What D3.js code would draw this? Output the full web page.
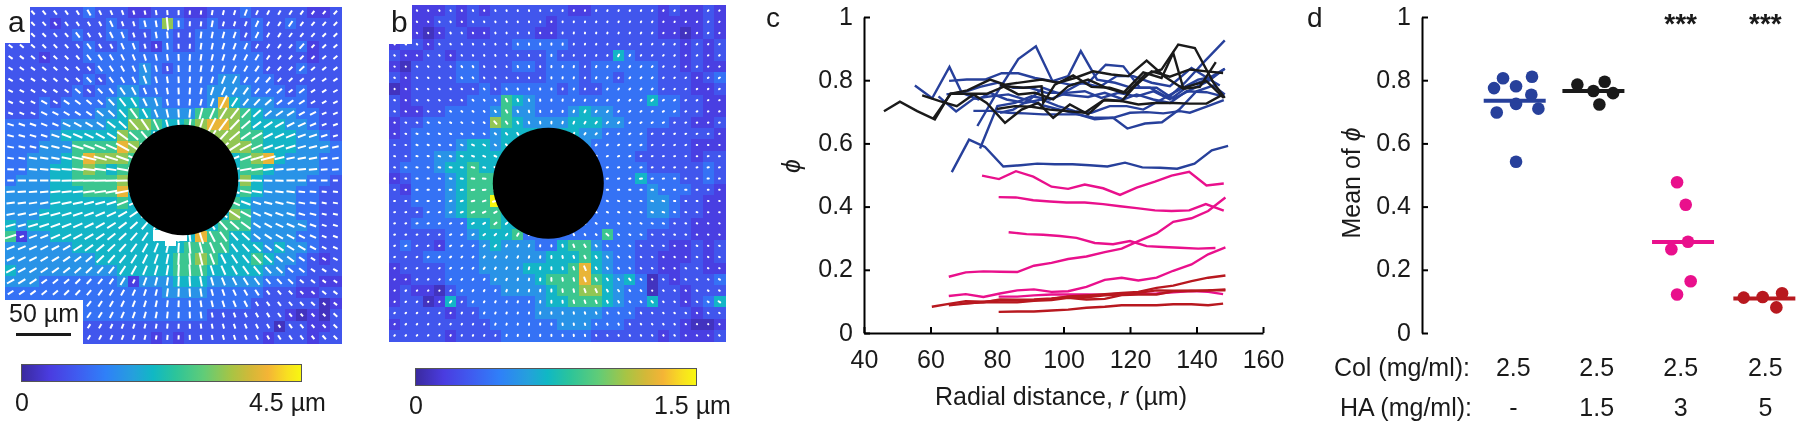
<!DOCTYPE html>
<html><head><meta charset="utf-8">
<script src="https://cdn.jsdelivr.net/npm/d3@7"></script>
<style>
html,body{margin:0;padding:0;background:#fff;}
svg{display:block;filter:blur(0.35px);}
text{font-family:"Liberation Sans",Arial,sans-serif;fill:#1a1a1a;}
</style></head><body><svg id="c" width="1800" height="426"></svg>
<script>
// Displacement magnitude on the bead-centred grid, as levels 0-9 of the colour range
const heatA = [
"22222 22322 21122 21122 23222 22112",
"22221 22223 22337 32232 22322 32222",
"22222 23223 32233 22333 32322 22222",
"22222 22322 33213 22333 33222 23122",
"22212 22333 33333 33333 33322 22122",
"22222 22233 33432 33333 33322 23222",
"22222 22323 33433 33334 43332 22222",
"22222 23233 44333 33344 44333 23222",
"22232 33334 55443 33348 54443 33222",
"22233 33344 56544 44667 76544 43322",
"33333 44445 57765 56788 76555 44322",
"33334 55555 76654 45677 76655 54432",
"33344 46666 87654 55567 77655 54443",
"33444 56877 76555 55555 56785 44433",
"33445 56765 66555 55555 56654 44433",
"34445 56666 75555 55555 57544 44332",
"44445 55666 85555 55555 56544 43322",
"44445 55555 65555 55555 65444 43322",
"44455 55555 55555 55555 76444 43322",
"54555 55555 55555 55556 66444 44322",
"61445 55555 55555 55866 55444 43322",
"44444 45555 55555 56666 55545 44322",
"44444 44455 55555 66765 55654 43212",
"54444 44444 55555 66655 55544 33222",
"44433 33333 41444 55544 44433 32211",
"33333 33333 33334 44433 33322 21122",
"33333 33333 33333 33333 33222 22201",
"33333 33333 33333 33322 22222 10102",
"33333 32222 22222 22222 22220 22112",
"32222 22222 22212 12222 22212 22122"];
const heatB = [
"11111 21212 22222 21122 22221 21121",
"22112 21222 22221 22222 22221 11121",
"21101 22112 22211 22222 22221 10121",
"12212 22222 23333 32222 22222 21212",
"21122 12222 22223 22222 53222 21212",
"10222 23322 23323 33233 33332 21211",
"21222 23322 22223 33233 23332 22123",
"01222 22232 33333 23223 33332 22112",
"21222 22333 65433 33333 33353 32211",
"21122 33334 64433 34544 33333 32211",
"12233 33337 65444 45554 43333 22112",
"12333 33334 55553 55443 33322 22221",
"22333 34554 55554 44433 33322 22111",
"22334 45555 54433 33333 33222 22122",
"23334 55655 43333 33333 33322 22232",
"12333 45666 53333 33333 33533 32232",
"21333 45666 63333 33333 33343 33221",
"22333 45669 93333 33333 33344 32211",
"22233 45666 53333 33333 33344 32211",
"22333 33556 55333 33333 33333 22111",
"22222 33455 56333 33336 33322 22111",
"23221 33345 44433 56643 33222 11212",
"22233 33344 44445 55654 33221 11212",
"12222 33344 44555 56854 33221 12211",
"11222 33334 44456 66865 45302 12223",
"12110 23333 44445 66775 43302 21222",
"12201 52333 33345 56665 43352 21235",
"22222 12233 33344 44443 33222 22122",
"12222 22223 33333 44433 32222 21001",
"22222 12222 33333 33322 22221 21112"];
const levelFractions = [.05,.11,.18,.26,.36,.46,.58,.72,.86,1];
const colorStops = [[0,"#3a2a9e"],[.1,"#4a3ce0"],[.2,"#3f5cf0"],[.3,"#2f80f8"],[.4,"#25a0dc"],[.47,"#10b8c4"],[.55,"#2cc49a"],[.65,"#60cc78"],[.75,"#a8c444"],[.82,"#d4b838"],[.88,"#f4b436"],[.95,"#f8e020"],[1,"#f8f810"]];

// Panel c: [radial distance, phi]
const blueLines = [
[[66.4,.509],[71.6,.612],[76.4,.589],[81.9,.527],[87.1,.531],[92.1,.536],[97.4,.534],[102.7,.534],[107.9,.531],[113.2,.527],[118.5,.539],[123.7,.524],[129,.523],[134.2,.52],[139.4,.536],[144.6,.578],[149.5,.592]],
[[74.1,.655],[79.3,.749],[86.4,.867],[91.7,.907],[96.7,.797],[101.4,.813],[105.2,.892],[110.1,.802],[115.5,.792],[120.5,.776],[126,.776],[131.5,.744],[136.5,.792],[142,.855],[148.5,.926]],
[[74.9,.584],[80.1,.718],[85.4,.728],[90.4,.749],[95.9,.739],[100.9,.76],[106.4,.765],[111.4,.744],[116.5,.76],[122,.749],[127,.765],[132,.739],[137.5,.781],[143,.802],[148.5,.836]],
[[55.3,.783],[60.5,.743],[65.7,.842],[69.4,.76],[74.4,.739],[77.9,.76],[82.9,.739],[88.4,.728],[93.4,.739],[98.4,.718],[103.4,.702],[108.4,.697],[113.9,.718],[119,.718],[124,.707],[129.5,.739],[135,.771],[140.5,.802],[145.5,.813]],
[[65.6,.798],[70.9,.802],[76.4,.802],[81.4,.822],[86.4,.822],[91.4,.807],[96.9,.797],[101.9,.786],[107.4,.792],[112.7,.849],[118,.844],[123,.776],[128,.776],[133,.741],[138.5,.771],[143.5,.797],[148.5,.836]],
[[62.4,.749],[67.7,.701],[72.9,.741],[78.1,.749],[83.4,.755],[88.4,.739],[93.9,.72],[98.9,.707],[104.4,.692],[109.4,.676],[114.9,.681],[119.2,.647],[124.5,.663],[129.6,.667],[134.8,.707],[140,.765],[145,.783],[148.5,.755]],
[[72.9,.703],[78.1,.703],[83.4,.697],[88.4,.695],[93.9,.692],[98.9,.692],[104.4,.692],[109.4,.681],[114.9,.681],[120,.697],[125,.699],[130,.695],[135,.702],[138,.697],[143,.716],[148.2,.737]],
[[80.9,.697],[84.9,.707],[89.9,.739],[93.9,.776],[99.4,.755],[107.4,.747],[112.4,.76],[118,.739],[122,.755],[127,.739],[132,.728],[137,.765],[143,.762],[148.5,.747]],
[[64.8,.755],[69.9,.762],[74.9,.779],[80.1,.792],[84.9,.776],[89.9,.776],[94.9,.76],[99.9,.76],[105.4,.792],[110.9,.779],[116,.813],[121,.813],[126.5,.792],[132,.781],[138.5,.839],[144,.802],[147,.783]]];
const blackLines = [
[[46,.702],[50.8,.732],[56,.702],[61.3,.676],[65.9,.757],[71.1,.768],[77.9,.802],[82.4,.786],[87.9,.794],[93.4,.802],[98.4,.792],[103.4,.807],[108.9,.828],[114.4,.818],[119.5,.813],[125,.862],[130.5,.811],[136,.773],[141,.779],[145.8,.857]],
[[57.5,.752],[62.8,.734],[67.9,.718],[72.9,.755],[76.9,.728],[82.4,.665],[87.4,.707],[92.4,.728],[96.9,.681],[101.9,.723],[107.4,.692],[112.4,.739],[117.5,.734],[121.5,.781],[126.5,.828],[132,.811],[138,.834],[143,.828],[148,.823]],
[[60.8,.678],[66.1,.757],[71.9,.757],[76.9,.757],[82.4,.781],[87.9,.776],[93.4,.781],[93.9,.728],[97.4,.786],[102.9,.815],[108.4,.779],[113.9,.776],[119,.76],[124.5,.818],[129.5,.834],[134.5,.913],[139.5,.902],[145,.794],[148.5,.744]],
[[79.9,.709],[85.4,.718],[90.4,.716],[95.9,.707],[100.9,.702],[106.4,.697],[111.9,.736],[117.5,.734],[122.5,.723],[127.5,.728],[133,.728],[138,.726],[143,.726],[148,.755]],
[[80.9,.786],[86.4,.755],[91.4,.76],[96.9,.739],[101.4,.781],[107.4,.802],[112.9,.776],[118,.76],[124,.825],[129.5,.807],[133,.886],[136,.776],[143,.797],[148.2,.744]]];
const pinkLines = [
[[75.5,.498],[80.6,.487],[85.7,.512],[90.9,.495],[96.4,.463],[101.4,.456],[106.4,.47],[111.9,.458],[117,.437],[122,.46],[127.5,.479],[132.5,.498],[137.8,.51],[143,.467],[148.2,.473]],
[[80.5,.43],[85.7,.429],[90.9,.42],[95.9,.416],[100.9,.413],[106.4,.413],[111.9,.408],[117,.401],[122,.395],[127.5,.388],[132.5,.386],[137.8,.388],[142.8,.408],[148.2,.387]],
[[83.5,.319],[88.9,.313],[93.9,.311],[98.9,.307],[103.9,.301],[109.4,.285],[114.9,.281],[120,.291],[125,.275],[130,.272],[135,.27],[140.5,.267],[145.7,.269]],
[[65.5,.178],[70.6,.192],[75.9,.195],[80.9,.194],[86.1,.193],[91.1,.213],[96.4,.222],[101.4,.234],[106.9,.242],[112.4,.256],[117.5,.267],[122.5,.291],[128,.315],[133,.352],[138.5,.363],[143.5,.386],[148.7,.429]],
[[65.5,.117],[70.6,.123],[75.9,.114],[80.9,.125],[86.1,.135],[91.1,.138],[96.4,.13],[101.4,.132],[106.9,.146],[112.4,.168],[117.5,.175],[122.5,.166],[128,.175],[133,.197],[138.5,.217],[143.5,.249],[148.7,.271]],
[[80.5,.115],[86.1,.115],[91.1,.119],[96.4,.122],[101.4,.122],[106.9,.122],[112.4,.121],[117.5,.125],[122.5,.124],[128,.125],[133,.129],[138.5,.133],[143.5,.13],[148,.123]]];
const redLines = [
[[60.4,.083],[65.5,.092],[70.6,.101],[75.9,.099],[80.9,.103],[86.1,.103],[91.1,.104],[96.4,.108],[101.4,.116],[106.9,.119],[112.4,.123],[117.5,.127],[122.5,.13],[128,.143],[133,.15],[138.5,.164],[143.5,.175],[148.7,.182]],
[[65.5,.088],[70.6,.093],[75.9,.098],[80.9,.097],[86.1,.097],[91.1,.102],[96.4,.104],[101.4,.111],[106.9,.106],[112.4,.108],[117.5,.12],[122.5,.122],[128,.122],[133,.132],[138.5,.133],[143.5,.135],[148.7,.135]],
[[68.9,.093],[75.9,.097],[80.9,.106],[86.1,.105],[91.1,.106],[96.4,.109],[101.4,.114],[106.9,.113],[112.4,.119],[117.5,.122],[122.5,.127],[128,.135],[133,.134],[138.5,.134],[143.5,.135],[148.7,.138]],
[[80.5,.067],[86.1,.068],[91.1,.068],[96.4,.071],[101.4,.074],[106.9,.08],[112.4,.083],[117.5,.088],[122.5,.088],[128,.088],[133,.091],[138.5,.091],[143.5,.088],[148,.093]]];

// Panel d: [group position, mean phi]
const blueDots  = [[-.139,.806],[.206,.811],[-.246,.775],[.016,.781],[.198,.754],[.016,.725],[.282,.71],[-.214,.698],[.016,.542]];
const blackDots = [[.746,.786],[1.071,.795],[.937,.766],[1.171,.759],[1.008,.723]];
const pinkDots  = [[1.933,.477],[2.036,.406],[2.063,.289],[1.865,.265],[2.095,.164],[1.933,.122]];
const redDots   = [[2.726,.112],[2.952,.114],[3.183,.126],[3.115,.081]];
const groupMeans = [[0,.735],[.937,.766],[2.004,.288],[2.972,.109]];
const groupLabelPos = [-.016,.976,1.976,2.984];
const colLabels = ["2.5","2.5","2.5","2.5"];
const haLabels = ["-","1.5","3","5"];
const sigLabels = ["","","***","***"];
const radialTicks = [40,60,80,100,120,140,160];
const phiTicks = [0,.2,.4,.6,.8,1];

const BLUE="#27409b", BLACK="#1a1a1a", PINK="#e9108c", RED="#b8181f";
const svg=d3.select("#c");
const defs=svg.append("defs");
const colormap=d3.scaleLinear().domain(colorStops.map(d=>d[0])).range(colorStops.map(d=>d[1])).interpolate(d3.interpolateRgb);

function heatPanel(opts){
  const rows=opts.grid.map(r=>r.replace(/ /g,"").split("").map(Number));
  const n=rows.length;
  const x=d3.scaleBand().domain(d3.range(n)).range(opts.xr);
  const y=d3.scaleBand().domain(d3.range(n)).range(opts.yr);
  const g=svg.append("g");
  const cells=rows.flatMap((r,j)=>r.map((v,i)=>({i,j,v})));
  g.append("g").attr("shape-rendering","crispEdges").selectAll("rect").data(cells).join("rect")
    .attr("x",d=>x(d.i)).attr("y",d=>y(d.j)).attr("width",x.bandwidth()+.6).attr("height",y.bandwidth()+.6)
    .attr("fill",d=>colormap(levelFractions[d.v]));
  const len=d3.scaleLinear().domain([0,2,5,8,9]).range(opts.len);
  g.append("g").attr("stroke","#fff").attr("stroke-width",opts.sw).attr("stroke-linecap",opts.cap)
    .selectAll("line").data(cells).join("line")
    .each(function(d){
      const cx=x(d.i)+x.bandwidth()/2, cy=y(d.j)+y.bandwidth()/2;
      const dx=opts.cx-cx, dy=opts.cy-cy, h=Math.hypot(dx,dy)||1, l=len(d.v)/2;
      d3.select(this).attr("x1",cx-dx/h*l).attr("y1",cy-dy/h*l).attr("x2",cx+dx/h*l).attr("y2",cy+dy/h*l);
    });
  (opts.masks||[]).forEach(m=>g.append("rect").attr("x",m[0]).attr("y",m[1]).attr("width",m[2]).attr("height",m[3]).attr("fill","#fff"));
  g.append("circle").attr("cx",opts.cx).attr("cy",opts.cy).attr("r",opts.r).attr("fill","#000");
  const id="grad"+opts.label;
  const grad=defs.append("linearGradient").attr("id",id);
  colorStops.forEach(s=>grad.append("stop").attr("offset",s[0]).attr("stop-color",s[1]));
  svg.append("rect").attr("x",opts.bar[0]).attr("y",opts.bar[1]).attr("width",opts.bar[2]).attr("height",opts.bar[3])
    .attr("fill",`url(#${id})`).attr("stroke","#555").attr("stroke-width",1);
  svg.append("text").attr("x",opts.lab0[0]).attr("y",opts.lab0[1]).attr("font-size",25).text("0");
  svg.append("text").attr("x",opts.lab1[0]).attr("y",opts.lab1[1]).attr("font-size",25).text(opts.barText);
  svg.append("text").attr("x",opts.lx).attr("y",32).attr("font-size",30).text(opts.label);
}
heatPanel({grid:heatA,label:"a",lx:8,xr:[5,341],yr:[7,343],cx:183,cy:180,r:55.3,sw:2,cap:"butt",len:[3.5,5,10,15,17],
  masks:[[0,0,30,43],[0,300,83,45],[153,230,34,11],[165,240,11,6]],bar:[21.5,364.5,280,17],lab0:[15,411],lab1:[249,411],barText:"4.5 µm"});
heatPanel({grid:heatB,label:"b",lx:391,xr:[389,725],yr:[5,341],cx:548.3,cy:183.3,r:55.5,sw:2,cap:"round",len:[.3,.8,2,4,5],
  masks:[[385,0,27,44]],bar:[415.5,368.5,281,17],lab0:[409,414],lab1:[654,414],barText:"1.5 µm"});

svg.append("text").attr("x",9).attr("y",322).attr("font-size",25).text("50 µm");
svg.append("line").attr("x1",16).attr("x2",71).attr("y1",334.5).attr("y2",334.5).attr("stroke","#1a1a1a").attr("stroke-width",3);

function styleAxis(g){
  g.attr("font-size",25).attr("font-family",'"Liberation Sans",Arial,sans-serif');
  g.selectAll("path,line").attr("stroke","#000").attr("stroke-width",2);
  g.selectAll("text").attr("fill","#1a1a1a");
}
// Panel c
const xc=d3.scaleLinear().domain([40,160]).range([864,1263]);
const yc=d3.scaleLinear().domain([0,1]).range([333,17]);
const lineGen=d3.line().x(d=>xc(d[0])).y(d=>yc(d[1]));
[[blueLines,BLUE],[pinkLines,PINK],[redLines,RED],[blackLines,BLACK]].forEach(([set,c])=>{
  svg.append("g").attr("fill","none").attr("stroke",c).attr("stroke-width",2.4).attr("stroke-linejoin","miter")
    .selectAll("path").data(set).join("path").attr("d",lineGen);
});
svg.append("g").attr("transform","translate(0,333)")
  .call(d3.axisBottom(xc).tickValues(radialTicks).tickFormat(d3.format("d")).tickSizeInner(-6).tickSizeOuter(0).tickPadding(17)).call(styleAxis);
svg.append("g").attr("transform","translate(864,0)")
  .call(d3.axisLeft(yc).tickValues(phiTicks).tickFormat(d=>d).tickSizeInner(-6).tickSizeOuter(0).tickPadding(11)).call(styleAxis)
  .selectAll("text").attr("dy",".28em");
const xl=svg.append("text").attr("x",1061).attr("y",405).attr("text-anchor","middle").attr("font-size",25);
xl.append("tspan").text("Radial distance, ");
xl.append("tspan").attr("font-style","italic").text("r");
xl.append("tspan").text(" (µm)");
svg.append("text").attr("transform","translate(800,166) rotate(-90)").attr("text-anchor","middle").attr("font-size",25).attr("font-style","italic").text("ϕ");
svg.append("text").attr("x",766).attr("y",27).attr("font-size",28).text("c");

// Panel d
const xd=d3.scaleLinear().domain([0,1]).range([1514.7,1598.7]);
const yd=d3.scaleLinear().domain([0,1]).range([333,17]);
svg.append("g").attr("transform","translate(1422,0)")
  .call(d3.axisLeft(yd).tickValues(phiTicks).tickFormat(d=>d).tickSizeInner(-6).tickSizeOuter(0).tickPadding(11)).call(styleAxis)
  .selectAll("text").attr("dy",".28em");
[[blueDots,BLUE],[blackDots,BLACK],[pinkDots,PINK],[redDots,RED]].forEach(([set,c])=>{
  svg.append("g").attr("fill",c).selectAll("circle").data(set).join("circle")
    .attr("cx",d=>xd(d[0])).attr("cy",d=>yd(d[1])).attr("r",6.3);
});
svg.append("g").selectAll("line").data(groupMeans).join("line")
  .attr("x1",d=>xd(d[0]-.369)).attr("x2",d=>xd(d[0]+.369)).attr("y1",d=>yd(d[1])).attr("y2",d=>yd(d[1]))
  .attr("stroke",(d,i)=>[BLUE,BLACK,PINK,RED][i]).attr("stroke-width",4);
const yLab=svg.append("text").attr("transform","translate(1360,183) rotate(-90)").attr("text-anchor","middle").attr("font-size",25);
yLab.append("tspan").text("Mean of ");
yLab.append("tspan").attr("font-style","italic").text("ϕ");
svg.append("text").attr("x",1307).attr("y",27).attr("font-size",28).text("d");
svg.append("g").attr("text-anchor","middle").attr("font-size",25).selectAll("text").data(colLabels).join("text")
  .attr("x",(d,i)=>xd(groupLabelPos[i])).attr("y",376).text(d=>d);
svg.append("g").attr("text-anchor","middle").attr("font-size",25).selectAll("text").data(haLabels).join("text")
  .attr("x",(d,i)=>xd(groupLabelPos[i])).attr("y",416).text(d=>d);
svg.append("g").attr("text-anchor","middle").attr("font-size",28).attr("font-weight","bold").selectAll("text").data(sigLabels).join("text")
  .attr("x",(d,i)=>xd(groupLabelPos[i])).attr("y",33).text(d=>d);
svg.append("text").attr("x",1470).attr("y",376).attr("text-anchor","end").attr("font-size",25).text("Col (mg/ml):");
svg.append("text").attr("x",1472).attr("y",416).attr("text-anchor","end").attr("font-size",25).text("HA (mg/ml):");
</script></body></html>
